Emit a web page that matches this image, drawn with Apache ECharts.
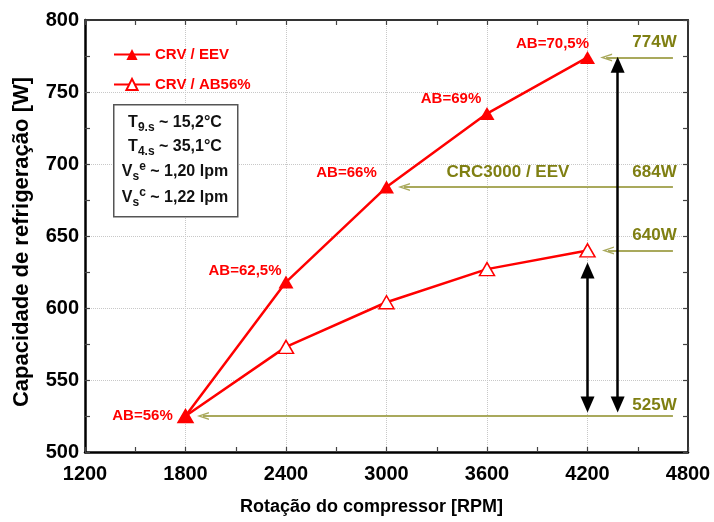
<!DOCTYPE html>
<html>
<head>
<meta charset="utf-8">
<script src="https://cdn.jsdelivr.net/npm/echarts@6/dist/echarts.min.js"></script>
<style>
  html, body { margin: 0; padding: 0; background: #fff; }
  #chart { width: 714px; height: 522px; }
</style>
</head>
<body>
<div id="chart"></div>
<script>
// Compressor speed [RPM] and refrigeration capacity [W]
const rpm = [1800, 2400, 3000, 3600, 4200];
const capEEV = [525, 618, 684, 735, 774];
const capAB56 = [525, 573, 604, 627, 640];
const abLabels = ['AB=56%', 'AB=62,5%', 'AB=66%', 'AB=69%', 'AB=70,5%'];

// Reference capacity levels [W] and the speed each pointer ends at
const refLevels = [774, 684, 640, 525];
const refArrowEnd = [4311, 3104, 4322, 1904];
const refArrowStart = 4710;
const refLabelRpm = 4600;
const crcText = 'CRC3000 / EEV';
const crcRpm = 3725;
const crcLevel = 684;

// Vertical capacity-gain spans
const spanRpm = [4200, 4380];
const spanLow = [533, 533];
const spanHigh = [626, 769];

// Test conditions box
const condLines = [
  '{m|T}{b|9.s}{m| ~ 15,2°C}',
  '{m|T}{b|4.s}{m| ~ 35,1°C}',
  '{m|V}{b|s}{p|e}{m| ~ 1,20 lpm}',
  '{m|V}{b|s}{p|c}{m| ~ 1,22 lpm}'
];

const FONT = "'Liberation Sans', Arial, sans-serif";
const RED = '#ff0000';
const OLIVE_TEXT = '#7f7f12';
const OLIVE_LINE = '#a9a95c';

const labelOffsets = [[-43, 0], [-41, -11], [-40, -14], [-36, -15], [-35, -14]];
const chevron = 'path://M5,0 L10,10 L8.2,10 L5,3.4 L1.8,10 L0,10 Z';

const chart = echarts.init(document.getElementById('chart'), null, { renderer: 'canvas' });

function frameAxis(base, pos) {
  return Object.assign({}, base, {
    position: pos,
    name: '',
    axisLabel: { show: false },
    splitLine: { show: false },
    axisLine: { show: true, lineStyle: { color: '#333', width: 2 } }
  });
}

const plainNum = v => String(v);

const xBase = {
  type: 'value', min: 1200, max: 4800, interval: 600,
  axisLine: { show: true, onZero: false, lineStyle: { color: '#000', width: 2.5 } },
  axisTick: { show: true, inside: true, length: 5, lineStyle: { color: '#444', width: 1.2 } },
  minorTick: { show: true, splitNumber: 2, length: 5, lineStyle: { color: '#444', width: 1.2 } },
  splitLine: { show: true, lineStyle: { color: '#c8c8c8', type: 'dotted', width: 1 } },
  axisLabel: { color: '#000', fontFamily: FONT, fontWeight: 'bold', fontSize: 20, margin: 12, formatter: plainNum }
};
const yBase = {
  type: 'value', min: 500, max: 800, interval: 50,
  axisLine: { show: true, onZero: false, lineStyle: { color: '#000', width: 2.5 } },
  axisTick: { show: true, inside: true, length: 5, lineStyle: { color: '#444', width: 1.2 } },
  minorTick: { show: true, splitNumber: 2, length: 5, lineStyle: { color: '#444', width: 1.2 } },
  splitLine: { show: true, lineStyle: { color: '#c8c8c8', type: 'dotted', width: 1 } },
  axisLabel: { color: '#000', fontFamily: FONT, fontWeight: 'bold', fontSize: 20, margin: 6, formatter: plainNum }
};

const option = {
  animation: false,
  backgroundColor: '#fff',
  grid: { left: 85, right: 26, top: 20, bottom: 70, show: false },
  legend: {
    left: 108, top: 42, orient: 'vertical',
    itemWidth: 36, itemHeight: 14, itemGap: 15,
    textStyle: { color: RED, fontFamily: FONT, fontWeight: 'bold', fontSize: 15 },
    data: ['CRV / EEV', 'CRV / AB56%']
  },
  xAxis: [
    Object.assign({}, xBase, {
      position: 'bottom',
      name: 'Rotação do compressor [RPM]',
      nameLocation: 'middle', nameGap: 46,
      nameTextStyle: { color: '#000', fontFamily: FONT, fontWeight: 'bold', fontSize: 18, padding: [0, 30, 0, 0] }
    }),
    frameAxis(xBase, 'top')
  ],
  yAxis: [
    Object.assign({}, yBase, {
      position: 'left',
      name: 'Capacidade de refrigeração [W]',
      nameLocation: 'middle', nameGap: 52,
      nameTextStyle: { color: '#000', fontFamily: FONT, fontWeight: 'bold', fontSize: 22, padding: [0, 12, 0, 0] }
    }),
    frameAxis(yBase, 'right')
  ],
  series: [
    {
      name: 'CRV / AB56%', type: 'line', z: 5,
      data: rpm.map((x, i) => [x, capAB56[i]]),
      symbol: 'triangle', symbolSize: [15, 13],
      lineStyle: { color: RED, width: 2.5 },
      itemStyle: { color: '#fff', borderColor: RED, borderWidth: 1.5 }
    },
    {
      name: 'CRV / EEV', type: 'line', z: 6,
      data: rpm.map((x, i) => ({
        value: [x, capEEV[i]],
        label: { offset: labelOffsets[i], formatter: abLabels[i] }
      })),
      symbol: 'triangle', symbolSize: [15, 13],
      lineStyle: { color: RED, width: 2.5 },
      itemStyle: { color: RED },
      label: {
        show: true, position: 'inside', color: RED,
        fontFamily: FONT, fontWeight: 'bold', fontSize: 15
      }
    },
    {
      name: 'refs', type: 'line', data: [], z: 3, silent: true,
      markLine: {
        silent: true, animation: false,
        symbol: ['none', chevron], symbolSize: [8, 12],
        lineStyle: { color: OLIVE_LINE, width: 2, type: 'solid' },
        label: { show: false },
        data: refLevels.map((v, i) => [
          { coord: [refArrowStart, v] },
          { coord: [refArrowEnd[i], v] }
        ])
      },
      markPoint: {
        silent: true, animation: false,
        symbol: 'circle', symbolSize: 1,
        itemStyle: { color: 'rgba(0,0,0,0)' },
        label: {
          show: true, position: 'inside', offset: [0, -15],
          color: OLIVE_TEXT, fontFamily: FONT, fontWeight: 'bold', fontSize: 17
        },
        data: refLevels.map(v => ({
          coord: [refLabelRpm, v], value: v,
          label: { formatter: v + 'W', offset: [0, v === 525 ? -11 : -15] }
        })).concat([{
          coord: [crcRpm, crcLevel], value: crcLevel,
          label: { formatter: crcText }
        }])
      }
    },
    {
      name: 'spans', type: 'line', data: [], z: 4, silent: true,
      markLine: {
        silent: true, animation: false,
        symbol: ['triangle', 'triangle'], symbolSize: [14, 16],
        lineStyle: { color: '#000', width: 2.5, type: 'solid' },
        itemStyle: { color: '#000' },
        label: { show: false },
        data: spanRpm.map((x, i) => [
          { coord: [x, spanLow[i]] },
          { coord: [x, spanHigh[i]] }
        ])
      }
    }
  ],
  graphic: [
    {
      type: 'rect', left: 113, top: 104, z: 10,
      shape: { width: 124, height: 112 },
      style: { fill: '#fff', stroke: '#555', lineWidth: 1.5 }
    }
  ].concat(condLines.map((t, i) => ({
    type: 'text', z: 11,
    x: 175, y: [123, 147, 172, 198][i],
    style: {
      text: t, align: 'center', verticalAlign: 'middle',
      rich: {
        m: { fontFamily: FONT, fontWeight: 'bold', fontSize: 16, fill: '#111', lineHeight: 22 },
        b: { fontFamily: FONT, fontWeight: 'bold', fontSize: 12, fill: '#111', lineHeight: 12, verticalAlign: 'bottom' },
        p: { fontFamily: FONT, fontWeight: 'bold', fontSize: 12, fill: '#111', lineHeight: 12, verticalAlign: 'top' }
      }
    }
  })))
};

chart.setOption(option);
</script>
</body>
</html>
